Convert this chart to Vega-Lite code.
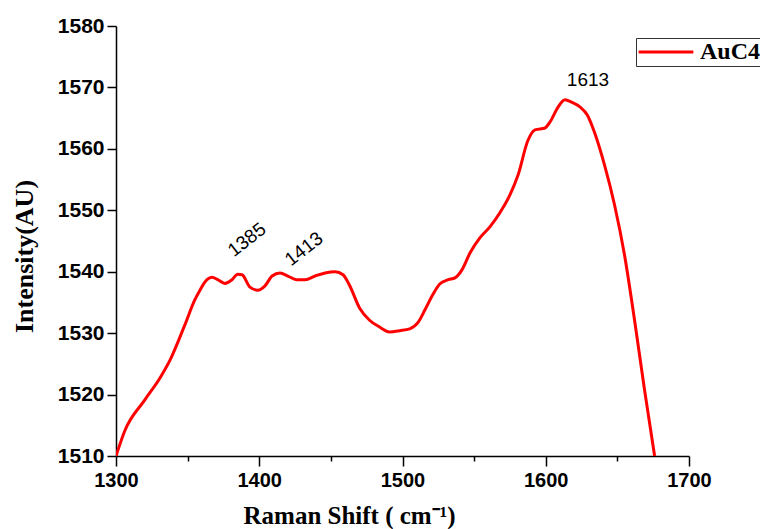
{
  "$schema": "https://vega.github.io/schema/vega-lite/v6.json",
  "autosize": "none",
  "width": 573,
  "height": 430,
  "padding": {"left": 116, "top": 26, "right": 71, "bottom": 73},
  "background": "white",
  "config": {"view": {"stroke": null}},
  "layer": [
    {
      "data": {"values": [
        {"x": 1300, "y": 1510, "s": "AuC4"},
        {"x": 1306.3, "y": 1514.2, "s": "AuC4"},
        {"x": 1320, "y": 1519.1, "s": "AuC4"},
        {"x": 1330.7, "y": 1522.7, "s": "AuC4"},
        {"x": 1337.7, "y": 1525.6, "s": "AuC4"},
        {"x": 1348, "y": 1531.3, "s": "AuC4"},
        {"x": 1355, "y": 1535.4, "s": "AuC4"},
        {"x": 1358.6, "y": 1537, "s": "AuC4"},
        {"x": 1363.5, "y": 1538.7, "s": "AuC4"},
        {"x": 1367, "y": 1539.1, "s": "AuC4"},
        {"x": 1371, "y": 1538.7, "s": "AuC4"},
        {"x": 1376, "y": 1538.1, "s": "AuC4"},
        {"x": 1381, "y": 1538.7, "s": "AuC4"},
        {"x": 1385, "y": 1539.6, "s": "AuC4"},
        {"x": 1388, "y": 1539.5, "s": "AuC4"},
        {"x": 1393.5, "y": 1537.5, "s": "AuC4"},
        {"x": 1399, "y": 1537, "s": "AuC4"},
        {"x": 1404, "y": 1537.7, "s": "AuC4"},
        {"x": 1409, "y": 1539.3, "s": "AuC4"},
        {"x": 1414.5, "y": 1539.8, "s": "AuC4"},
        {"x": 1420, "y": 1539.3, "s": "AuC4"},
        {"x": 1426, "y": 1538.7, "s": "AuC4"},
        {"x": 1432, "y": 1538.7, "s": "AuC4"},
        {"x": 1439, "y": 1539.3, "s": "AuC4"},
        {"x": 1446, "y": 1539.8, "s": "AuC4"},
        {"x": 1453, "y": 1540, "s": "AuC4"},
        {"x": 1458.5, "y": 1539.5, "s": "AuC4"},
        {"x": 1463, "y": 1537.8, "s": "AuC4"},
        {"x": 1470, "y": 1534.1, "s": "AuC4"},
        {"x": 1477, "y": 1532.1, "s": "AuC4"},
        {"x": 1484, "y": 1531, "s": "AuC4"},
        {"x": 1491, "y": 1530.2, "s": "AuC4"},
        {"x": 1498, "y": 1530.4, "s": "AuC4"},
        {"x": 1505, "y": 1530.7, "s": "AuC4"},
        {"x": 1511, "y": 1531.8, "s": "AuC4"},
        {"x": 1515.7, "y": 1533.8, "s": "AuC4"},
        {"x": 1521, "y": 1536.2, "s": "AuC4"},
        {"x": 1526, "y": 1538, "s": "AuC4"},
        {"x": 1532, "y": 1538.7, "s": "AuC4"},
        {"x": 1536.6, "y": 1539, "s": "AuC4"},
        {"x": 1541.5, "y": 1540.3, "s": "AuC4"},
        {"x": 1547, "y": 1543, "s": "AuC4"},
        {"x": 1554, "y": 1545.5, "s": "AuC4"},
        {"x": 1561, "y": 1547.3, "s": "AuC4"},
        {"x": 1568, "y": 1549.6, "s": "AuC4"},
        {"x": 1575, "y": 1552.5, "s": "AuC4"},
        {"x": 1580.6, "y": 1555.7, "s": "AuC4"},
        {"x": 1587.6, "y": 1561.4, "s": "AuC4"},
        {"x": 1592.5, "y": 1563.1, "s": "AuC4"},
        {"x": 1599.5, "y": 1563.4, "s": "AuC4"},
        {"x": 1603, "y": 1564.4, "s": "AuC4"},
        {"x": 1608.6, "y": 1566.8, "s": "AuC4"},
        {"x": 1613.4, "y": 1568, "s": "AuC4"},
        {"x": 1618, "y": 1567.6, "s": "AuC4"},
        {"x": 1624, "y": 1566.8, "s": "AuC4"},
        {"x": 1629, "y": 1565.5, "s": "AuC4"},
        {"x": 1634, "y": 1562.7, "s": "AuC4"},
        {"x": 1641, "y": 1557.4, "s": "AuC4"},
        {"x": 1648, "y": 1550.9, "s": "AuC4"},
        {"x": 1655, "y": 1542.7, "s": "AuC4"},
        {"x": 1662, "y": 1532.1, "s": "AuC4"},
        {"x": 1669, "y": 1520.7, "s": "AuC4"},
        {"x": 1676, "y": 1510, "s": "AuC4"}
      ]},
      "mark": {"type": "line", "strokeWidth": 3, "interpolate": "monotone", "clip": true},
      "encoding": {
        "x": {
          "field": "x", "type": "quantitative",
          "scale": {"domain": [1300, 1700], "nice": false, "zero": false},
          "axis": {
            "values": [1300, 1350, 1400, 1450, 1500, 1550, 1600, 1650, 1700],
            "labelExpr": "datum.value % 100 === 0 ? datum.label : ''",
            "format": "d",
            "grid": false,
            "labelFlush": false,
            "labelOverlap": false,
            "domainColor": "black", "domainWidth": 1.5,
            "tickColor": "black", "tickWidth": 1.5,
            "tickSize": {"condition": {"test": "datum.value % 100 === 0", "value": 10}, "value": 5},
            "labelFont": "Liberation Sans", "labelFontSize": 20, "labelFontWeight": "bold", "labelColor": "black",
            "labelPadding": 4,
            "title": "Raman Shift ( cm⁻¹)",
            "titleFont": "Liberation Serif", "titleFontSize": 25, "titleFontWeight": "bold", "titleColor": "black",
            "titleX": 127, "titleY": 67, "titleAlign": "left", "titleBaseline": "alphabetic"
          }
        },
        "y": {
          "field": "y", "type": "quantitative",
          "scale": {"domain": [1510, 1580], "nice": false, "zero": false},
          "axis": {
            "values": [1510, 1515, 1520, 1525, 1530, 1535, 1540, 1545, 1550, 1555, 1560, 1565, 1570, 1575, 1580],
            "labelExpr": "datum.value % 10 === 0 ? datum.label : ''",
            "format": "d",
            "grid": false,
            "labelFlush": false,
            "labelOverlap": false,
            "domainColor": "black", "domainWidth": 1.5,
            "tickColor": "black", "tickWidth": 1.5,
            "tickSize": {"condition": {"test": "datum.value % 10 === 0", "value": 9}, "value": 4},
            "labelFont": "Liberation Sans", "labelFontSize": 21, "labelFontWeight": "bold", "labelColor": "black",
            "labelPadding": 3,
            "title": "Intensity(AU)",
            "titleFont": "Liberation Serif", "titleFontSize": 26, "titleFontWeight": "bold", "titleColor": "black",
            "titleX": -92, "titleY": 230, "titleAngle": 270, "titleAlign": "center", "titleBaseline": "middle"
          }
        },
        "color": {
          "field": "s", "type": "nominal",
          "scale": {"range": ["#ff0000"]},
          "legend": {
            "title": null, "orient": "none", "legendX": 520, "legendY": 12,
            "symbolType": "stroke", "symbolStrokeWidth": 3, "symbolSize": 3000, "clipHeight": 26,
            "labelFont": "Liberation Serif", "labelFontSize": 24, "labelFontWeight": "bold", "labelColor": "black",
            "labelOffset": 5,
            "strokeColor": "#333333", "padding": 1, "fillColor": "white"
          }
        }
      }
    },
    {
      "data": {"values": [
        {"x": 1391.4, "y": 1545.2, "t": "1385"},
        {"x": 1431.2, "y": 1543.7, "t": "1413"}
      ]},
      "mark": {"type": "text", "angle": 322, "font": "Liberation Sans", "fontSize": 19, "color": "black"},
      "encoding": {
        "x": {"field": "x", "type": "quantitative"},
        "y": {"field": "y", "type": "quantitative"},
        "text": {"field": "t"}
      }
    },
    {
      "data": {"values": [{"x": 1629.5, "y": 1571.2, "t": "1613"}]},
      "mark": {"type": "text", "font": "Liberation Sans", "fontSize": 19, "color": "black"},
      "encoding": {
        "x": {"field": "x", "type": "quantitative"},
        "y": {"field": "y", "type": "quantitative"},
        "text": {"field": "t"}
      }
    }
  ]
}
